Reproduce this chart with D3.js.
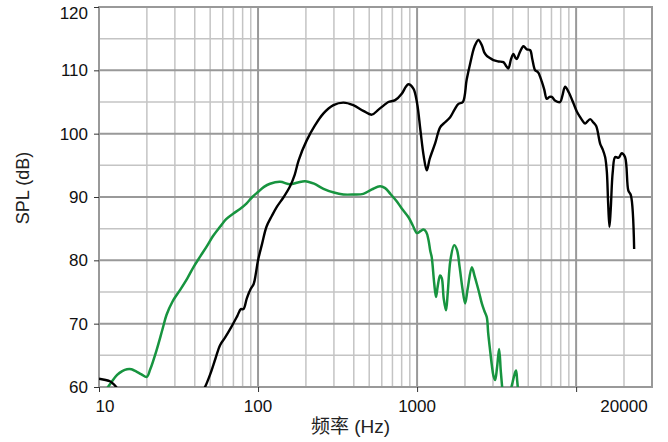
<!DOCTYPE html>
<html><head><meta charset="utf-8">
<script src="https://cdn.jsdelivr.net/npm/d3@7/dist/d3.min.js"></script>
<style>
html,body{margin:0;padding:0;background:#fff;}
svg{display:block;font-family:"Liberation Sans",Arial,"Noto Sans CJK SC",sans-serif;}
</style></head>
<body>
<svg id="chart" width="668" height="442"></svg>
<script>
// ---- data ----
const xTickValues = [10, 100, 1000, 10000];
const xTickLabels = [10, 100, 1000, 20000];
const yTickValues = [60, 70, 80, 90, 100, 110, 120];
const xLabel = "频率 (Hz)";
const yLabel = "SPL (dB)";

const blackFreq = [10,11,11.7,12.4,13,13.5,null,
 44,46.4,50,54,57.7,62,68,74,78,81,85,90,94,97,100,106,113,122,131,145,159,170,180,202,228,258,298,344,397,459,519,572,620,660,728,801,850,883,948,1000,1050,1100,1150,1200,1300,1396,1500,1614,1720,1821,1940,2050,2154,2300,2430,2550,2650,2744,2850,3020,3250,3490,3650,3752,3900,4034,4150,4236,4450,4665,4900,5140,5300,5525,5700,5800,6085,6300,6543,6800,7033,7400,7940,8200,8530,9000,9620,10100,10600,11000,11400,12250,12800,13370,14170,14700,15220,15600,15900,16200,16500,17000,17600,18500,19350,20300,21300,22080,23170];
const blackDb = [61.3,61.1,60.9,60.4,59.8,59.0,null,
 59.0,60,62.0,64.5,66.6,67.8,69.5,71.2,72.3,72.3,74.0,75.5,76.3,78,80,82.6,85.3,87.0,88.4,90.0,91.7,93.5,95.8,98.9,101.3,103.2,104.5,104.9,104.5,103.6,103.0,103.8,104.5,105.0,105.3,106.3,107.4,107.8,107.1,104.8,100.5,96.5,94.2,96.0,98.5,101.0,101.8,102.6,103.8,104.7,105.0,108.5,111.0,113.8,114.8,114.0,112.8,112.3,112.0,111.6,111.4,111.3,110.6,110.3,111.8,112.6,112.0,111.8,113.0,113.8,113.3,113.2,111.8,110.0,109.8,109.6,108.2,107.0,105.5,105.8,105.8,105.2,105.0,106.0,107.4,106.5,104.8,103.5,102.6,102.0,101.6,102.3,101.8,101.2,98.4,97.5,96.3,94.0,89.0,85.3,88.0,94.0,96.3,96.2,96.9,96.3,91.0,90.3,81.8];

const greenFreq = [11,11.4,12,13,14,15,16,17,18.5,19.95,21,23,25,26.6,29,32.3,36,39.2,43,47.6,52,57.7,63,70,77,84.8,92,100,109,118.9,137.6,159,178,197.6,225,258,300,344,400,459,520,585,630,679,740,801,883,940,1000,1050,1097,1140,1178,1210,1236,1280,1315,1350,1396,1430,1470,1520,1560,1620,1710,1780,1850,1930,2005,2080,2210,2300,2373,2450,2553,2650,2744,2800,2878,2950,3020,3095,3180,3280,3360,3440,null,
 3880,3990,4100,4190,4260,4330];
const greenDb = [59.5,60.0,60.8,61.9,62.5,62.8,62.8,62.5,62.0,61.6,62.8,65.8,69.0,71.4,73.5,75.3,77.2,78.9,80.5,82.2,83.8,85.3,86.5,87.4,88.1,89.0,90.0,90.8,91.6,92.1,92.4,92.0,92.3,92.5,92.1,91.3,90.7,90.4,90.4,90.5,91.2,91.7,91.4,90.5,89.4,88.2,86.8,85.5,84.3,84.6,84.85,84.5,83.3,81.5,80.5,76.5,74.2,76.0,77.6,77.2,74.0,72.1,75.0,80.0,82.4,81.7,79.0,75.5,73.2,75.5,78.9,77.5,76.3,75.0,73.2,72.0,71.0,68.5,65.8,63.5,61.8,61.1,63.0,66.0,62.5,59.5,null,
 59.5,60.8,62.0,62.6,61.0,59.0];

// ---- layout ----
const margin = {left: 99, top: 7, right: 16, bottom: 55};
const W = 668, H = 442;
const iw = W - margin.left - margin.right;
const ih = H - margin.top - margin.bottom;

const svg = d3.select("#chart");
const g = svg.append("g").attr("transform", `translate(${margin.left},${margin.top})`);

const x = d3.scaleLog().domain([10, 30000]).range([0, iw]);
const y = d3.scaleLinear().domain([60, 120]).range([ih, 0]);

// grid
const minorX = [];
[10, 100, 1000, 10000].forEach(d => { for (let k = 2; k <= 9; k++) { const f = k * d; if (f < 30000) minorX.push(f); } });
g.append("g").selectAll("line").data(minorX).join("line")
  .attr("x1", d => x(d)).attr("x2", d => x(d)).attr("y1", 0).attr("y2", ih)
  .attr("stroke", "#c4c4c4").attr("stroke-width", 1.5);
const minorY = d3.range(65, 120, 10);
g.append("g").selectAll("line").data(minorY).join("line")
  .attr("x1", 0).attr("x2", iw).attr("y1", d => y(d)).attr("y2", d => y(d))
  .attr("stroke", "#c4c4c4").attr("stroke-width", 1.5);
g.append("g").selectAll("line").data(xTickValues).join("line")
  .attr("x1", d => x(d)).attr("x2", d => x(d)).attr("y1", 0).attr("y2", ih)
  .attr("stroke", "#999").attr("stroke-width", 2);
g.append("g").selectAll("line").data(yTickValues).join("line")
  .attr("x1", 0).attr("x2", iw).attr("y1", d => y(d)).attr("y2", d => y(d))
  .attr("stroke", "#999").attr("stroke-width", 2);
// border
g.append("rect").attr("x", 0).attr("y", 0).attr("width", iw).attr("height", ih)
  .attr("fill", "none").attr("stroke", "#999").attr("stroke-width", 2);

// clip
svg.append("defs").append("clipPath").attr("id", "clip")
  .append("rect").attr("x", 0).attr("y", 0).attr("width", iw).attr("height", ih);

const line = d3.line()
  .defined(d => d[0] !== null && d[1] !== null)
  .x(d => x(d[0])).y(d => y(d[1]))
  .curve(d3.curveCatmullRom.alpha(0.5));

const blackData = blackFreq.map((f, i) => [f, blackDb[i]]);
const greenData = greenFreq.map((f, i) => [f, greenDb[i]]);

const curves = g.append("g").attr("clip-path", "url(#clip)");
curves.append("path").datum(greenData).attr("d", line)
  .attr("fill", "none").attr("stroke", "#17943f").attr("stroke-width", 2.5)
  .attr("stroke-linejoin", "round");
curves.append("path").datum(blackData).attr("d", line)
  .attr("fill", "none").attr("stroke", "#000").attr("stroke-width", 2.4)
  .attr("stroke-linejoin", "round");

// axes (ticks)
const yAxis = g.append("g").call(d3.axisLeft(y).tickValues(yTickValues).tickSize(5).tickPadding(6));
yAxis.select(".domain").remove();
yAxis.selectAll(".tick line").attr("stroke", "#333");
yAxis.selectAll(".tick text").attr("font-size", 17).attr("fill", "#111")
  .attr("font-family", "'Liberation Sans',Arial,sans-serif")
  .attr("dy", d => d === 120 ? "0.68em" : "0.32em");

const xAxis = g.append("g").attr("transform", `translate(0,${ih})`)
  .call(d3.axisBottom(x).tickValues(xTickValues).tickSize(5).tickFormat(""));
xAxis.select(".domain").remove();
xAxis.selectAll(".tick line").attr("stroke", "#333");

g.append("g").selectAll("text").data(xTickLabels).join("text")
  .attr("x", d => x(d) + (d === 10 ? 6 : 0))
  .attr("y", ih + 25)
  .attr("text-anchor", "middle")
  .attr("font-size", 17).attr("fill", "#111")
  .text(d => d);

svg.append("text")
  .attr("x", margin.left + iw / 2 - 25).attr("y", 433)
  .attr("text-anchor", "middle").attr("font-size", 19).attr("fill", "#222")
  .text(xLabel);

svg.append("text")
  .attr("transform", `translate(29,188) rotate(-90)`)
  .attr("text-anchor", "middle").attr("font-size", 18).attr("fill", "#222")
  .text(yLabel);
</script>
</body></html>
